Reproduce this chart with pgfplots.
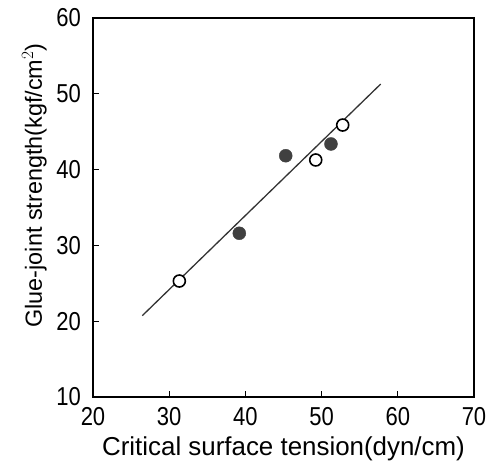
\documentclass[border=0pt]{standalone}
\usepackage{fontspec}
\setmainfont{Liberation Sans}
\newfontfamily\tickfont[FakeStretch=0.85]{Liberation Sans}
\usepackage{pgfplots}
\pgfplotsset{compat=1.18}
\begin{document}
\begin{tikzpicture}
% page frame: axis box lower-left sits at the origin
\useasboundingbox (-93bp,-65bp) rectangle (404bp,397bp);
\begin{axis}[
  scale only axis,
  anchor=south west, at={(0,0)},
  width=381bp, height=379bp,
  xmin=20, xmax=70, ymin=10, ymax=60,
  xtick={20,30,...,70}, ytick={10,20,...,60},
  tick align=inside,
  xtick pos=bottom, ytick pos=left,
  major tick length=6bp,
  axis line style={line width=1.4bp},
  tick style={line width=1.2bp, black},
  /pgf/number format/assume math mode=true,
  tick label style={font=\tickfont\fontsize{26}{30}\selectfont},
  xticklabel style={anchor=north, inner sep=0pt, yshift=-10bp},
  yticklabel style={anchor=east, inner sep=0pt, xshift=-12bp},
  xlabel={Critical surface tension(dyn/cm)},
  ylabel={Glue-joint strength(kgf/cm$^2$)},
  xlabel style={font=\fontsize{26}{30}\selectfont, at={(axis description cs:0.5,0)}, anchor=base, yshift=-58bp, inner sep=0pt},
  ylabel style={font=\fontsize{23.5}{28}\selectfont, at={(axis description cs:0,0.5)}, anchor=base, xshift=22bp, yshift=51bp, inner sep=0pt},
  clip=false,
]
% fitted line
\addplot[black!80, line width=1.3bp, no marks] coordinates {(26.47,20.73) (57.76,51.29)};
% open symbols
\addplot[only marks, mark=*, mark size=6bp, mark options={fill=white, draw=black, line width=1.6bp}]
  coordinates {(31.33,25.30) (49.23,41.27) (52.77,45.88)};
% filled symbols
\addplot[only marks, mark=*, mark size=6.5bp, mark options={fill=black!75, draw=black!75}]
  coordinates {(39.20,31.60) (45.29,41.83) (51.23,43.38)};
\end{axis}
\end{tikzpicture}
\end{document}
